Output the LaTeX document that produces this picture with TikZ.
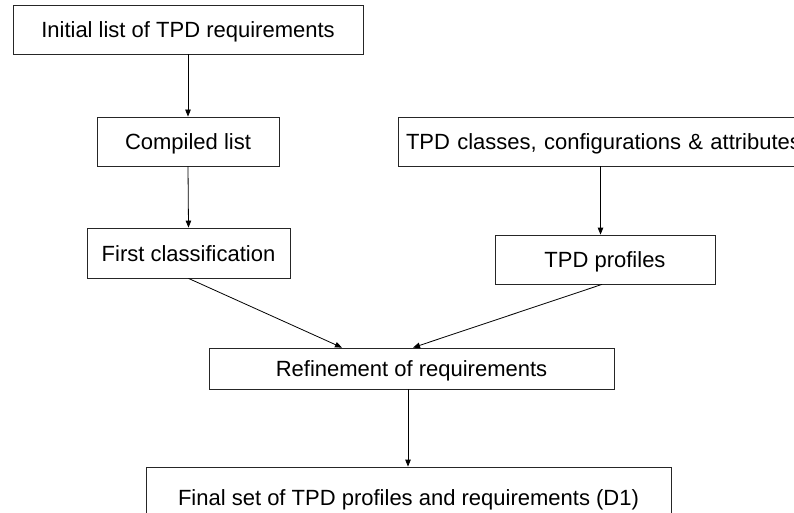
\documentclass[tikz,border=0pt]{standalone}
\usepackage{fontspec}
\setmainfont{Liberation Sans}
\usetikzlibrary{arrows.meta}
\begin{document}
\begin{tikzpicture}[x=1pt,y=-1pt,
  box/.style={draw=black!85, line width=0.8pt, rectangle, inner sep=0pt, font=\fontsize{22}{26}\selectfont, text=black, text height=16.5pt, text depth=0pt},
  arr/.style={draw=black, line width=0.8pt, -{Triangle[length=7pt,width=5.5pt]}}]
\clip (0,0) rectangle (794,513);
\useasboundingbox (0,0) rectangle (794,513);
\fill[white] (0,0) rectangle (794,513);
\node[box, minimum width=350pt, minimum height=49pt] (init) at (188,29.5) {Initial list of TPD requirements};
\node[box, minimum width=182pt, minimum height=49pt] (compiled) at (188,141.5) {Compiled list};
\node[box, minimum width=203pt, minimum height=50pt] (first) at (188.5,253) {First classification};
\node[box, minimum width=420pt, minimum height=49pt, text width=412pt, inner xsep=4pt, align=left] (classes) at (608,141.5) {\hspace{4pt}TPD classes, configurations \& attributes};
\node[box, minimum width=220pt, minimum height=49pt] (profiles) at (605,259.5) {TPD profiles};
\node[box, minimum width=405pt, minimum height=41pt] (refine) at (411.5,368.5) {Refinement of requirements};
\node[box, minimum width=525pt, minimum height=60pt] (final) at (408.5,497) {Final set of TPD profiles and requirements (D1)};
\draw[arr] (init.south) -- (compiled.north);
\draw[arr] (compiled.south) -- (first.north);
\draw[arr] ([xshift=-7.5pt]classes.south) -- ([xshift=-7.5pt]classes.south |- profiles.north);
\draw[arr] (first.south) -- ([xshift=-69.5pt]refine.north);
\draw[arr] ([xshift=-3pt]profiles.south) -- ([xshift=1.5pt]refine.north);
\draw[arr] ([xshift=-3.5pt]refine.south) -- ([xshift=-0.5pt]final.north);
\end{tikzpicture}
\end{document}
